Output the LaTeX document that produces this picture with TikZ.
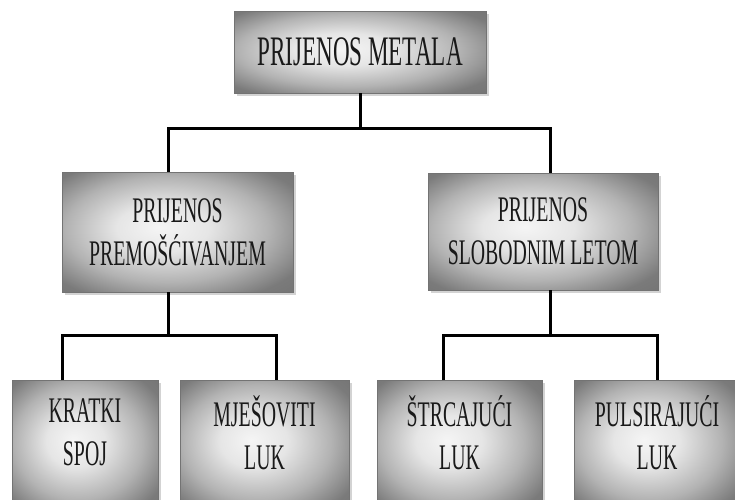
\documentclass[tikz,border=0pt]{standalone}
\usepackage{fontspec}
\newfontfamily\boxfont{Liberation Serif}[FakeStretch=0.55]
\usetikzlibrary{shadows}
\pgfdeclareradialshading{metal}{\pgfpoint{-4bp}{2bp}}{color(0bp)=(black!4); color(10bp)=(black!10); color(22bp)=(black!30); color(32bp)=(black!52); color(50bp)=(black!60)}

\begin{document}
\begin{tikzpicture}[
  x=1pt,y=-1pt,
  boxes/.style={rectangle,draw=black!55,line width=0.6pt,shading=metal,
    drop shadow={opacity=0.35,shadow xshift=2.5pt,shadow yshift=-2.5pt},
    text=black!90,font=\boxfont\fontsize{36}{43}\selectfont,align=center,minimum width=#1},
  leaves/.style={boxes=#1,minimum height=130,anchor=north,text depth=26pt},
  links/.style={line width=3pt,black},
]
\useasboundingbox (0,0) rectangle (735,499);
\clip (0,0) rectangle (735,499);

\node (metal) [boxes=252,minimum height=82,font=\boxfont\fontsize{42}{50}\selectfont] at (360,52) {PRIJENOS METALA};

\node (bridge) [boxes=231,minimum height=120] at (177.5,232) {PRIJENOS\\PREMOŠĆIVANJEM};
\node (flight) [boxes=230,minimum height=117] at (543,231.5) {PRIJENOS\\SLOBODNIM LETOM};

\node (short) [leaves=146] at (85,380) {KRATKI\\SPOJ};
\node (mixed) [leaves=169] at (264.5,380) {MJEŠOVITI\\LUK};
\node (spray) [leaves=165] at (459.5,380) {ŠTRCAJUĆI\\LUK};
\node (pulse) [leaves=165] at (657,380) {PULSIRAJUĆI\\LUK};

% top level
\draw[links] (metal.south) -- ++(0,35) coordinate (fork);
\draw[links] ([xshift=-9.5pt]bridge.north) |- (fork) -| ([xshift=7pt]flight.north);

% bridging transfer
\draw[links] ([xshift=-9.5pt]bridge.south) -- ++(0,43) coordinate (forkL);
\draw[links] ([xshift=-23pt]short.north) |- (forkL) -| ([xshift=11.5pt]mixed.north);

% free flight transfer
\draw[links] ([xshift=7pt]flight.south) -- ++(0,45) coordinate (forkR);
\draw[links] ([xshift=-16.5pt]spray.north) |- (forkR) -| (pulse.north);
\end{tikzpicture}
\end{document}
